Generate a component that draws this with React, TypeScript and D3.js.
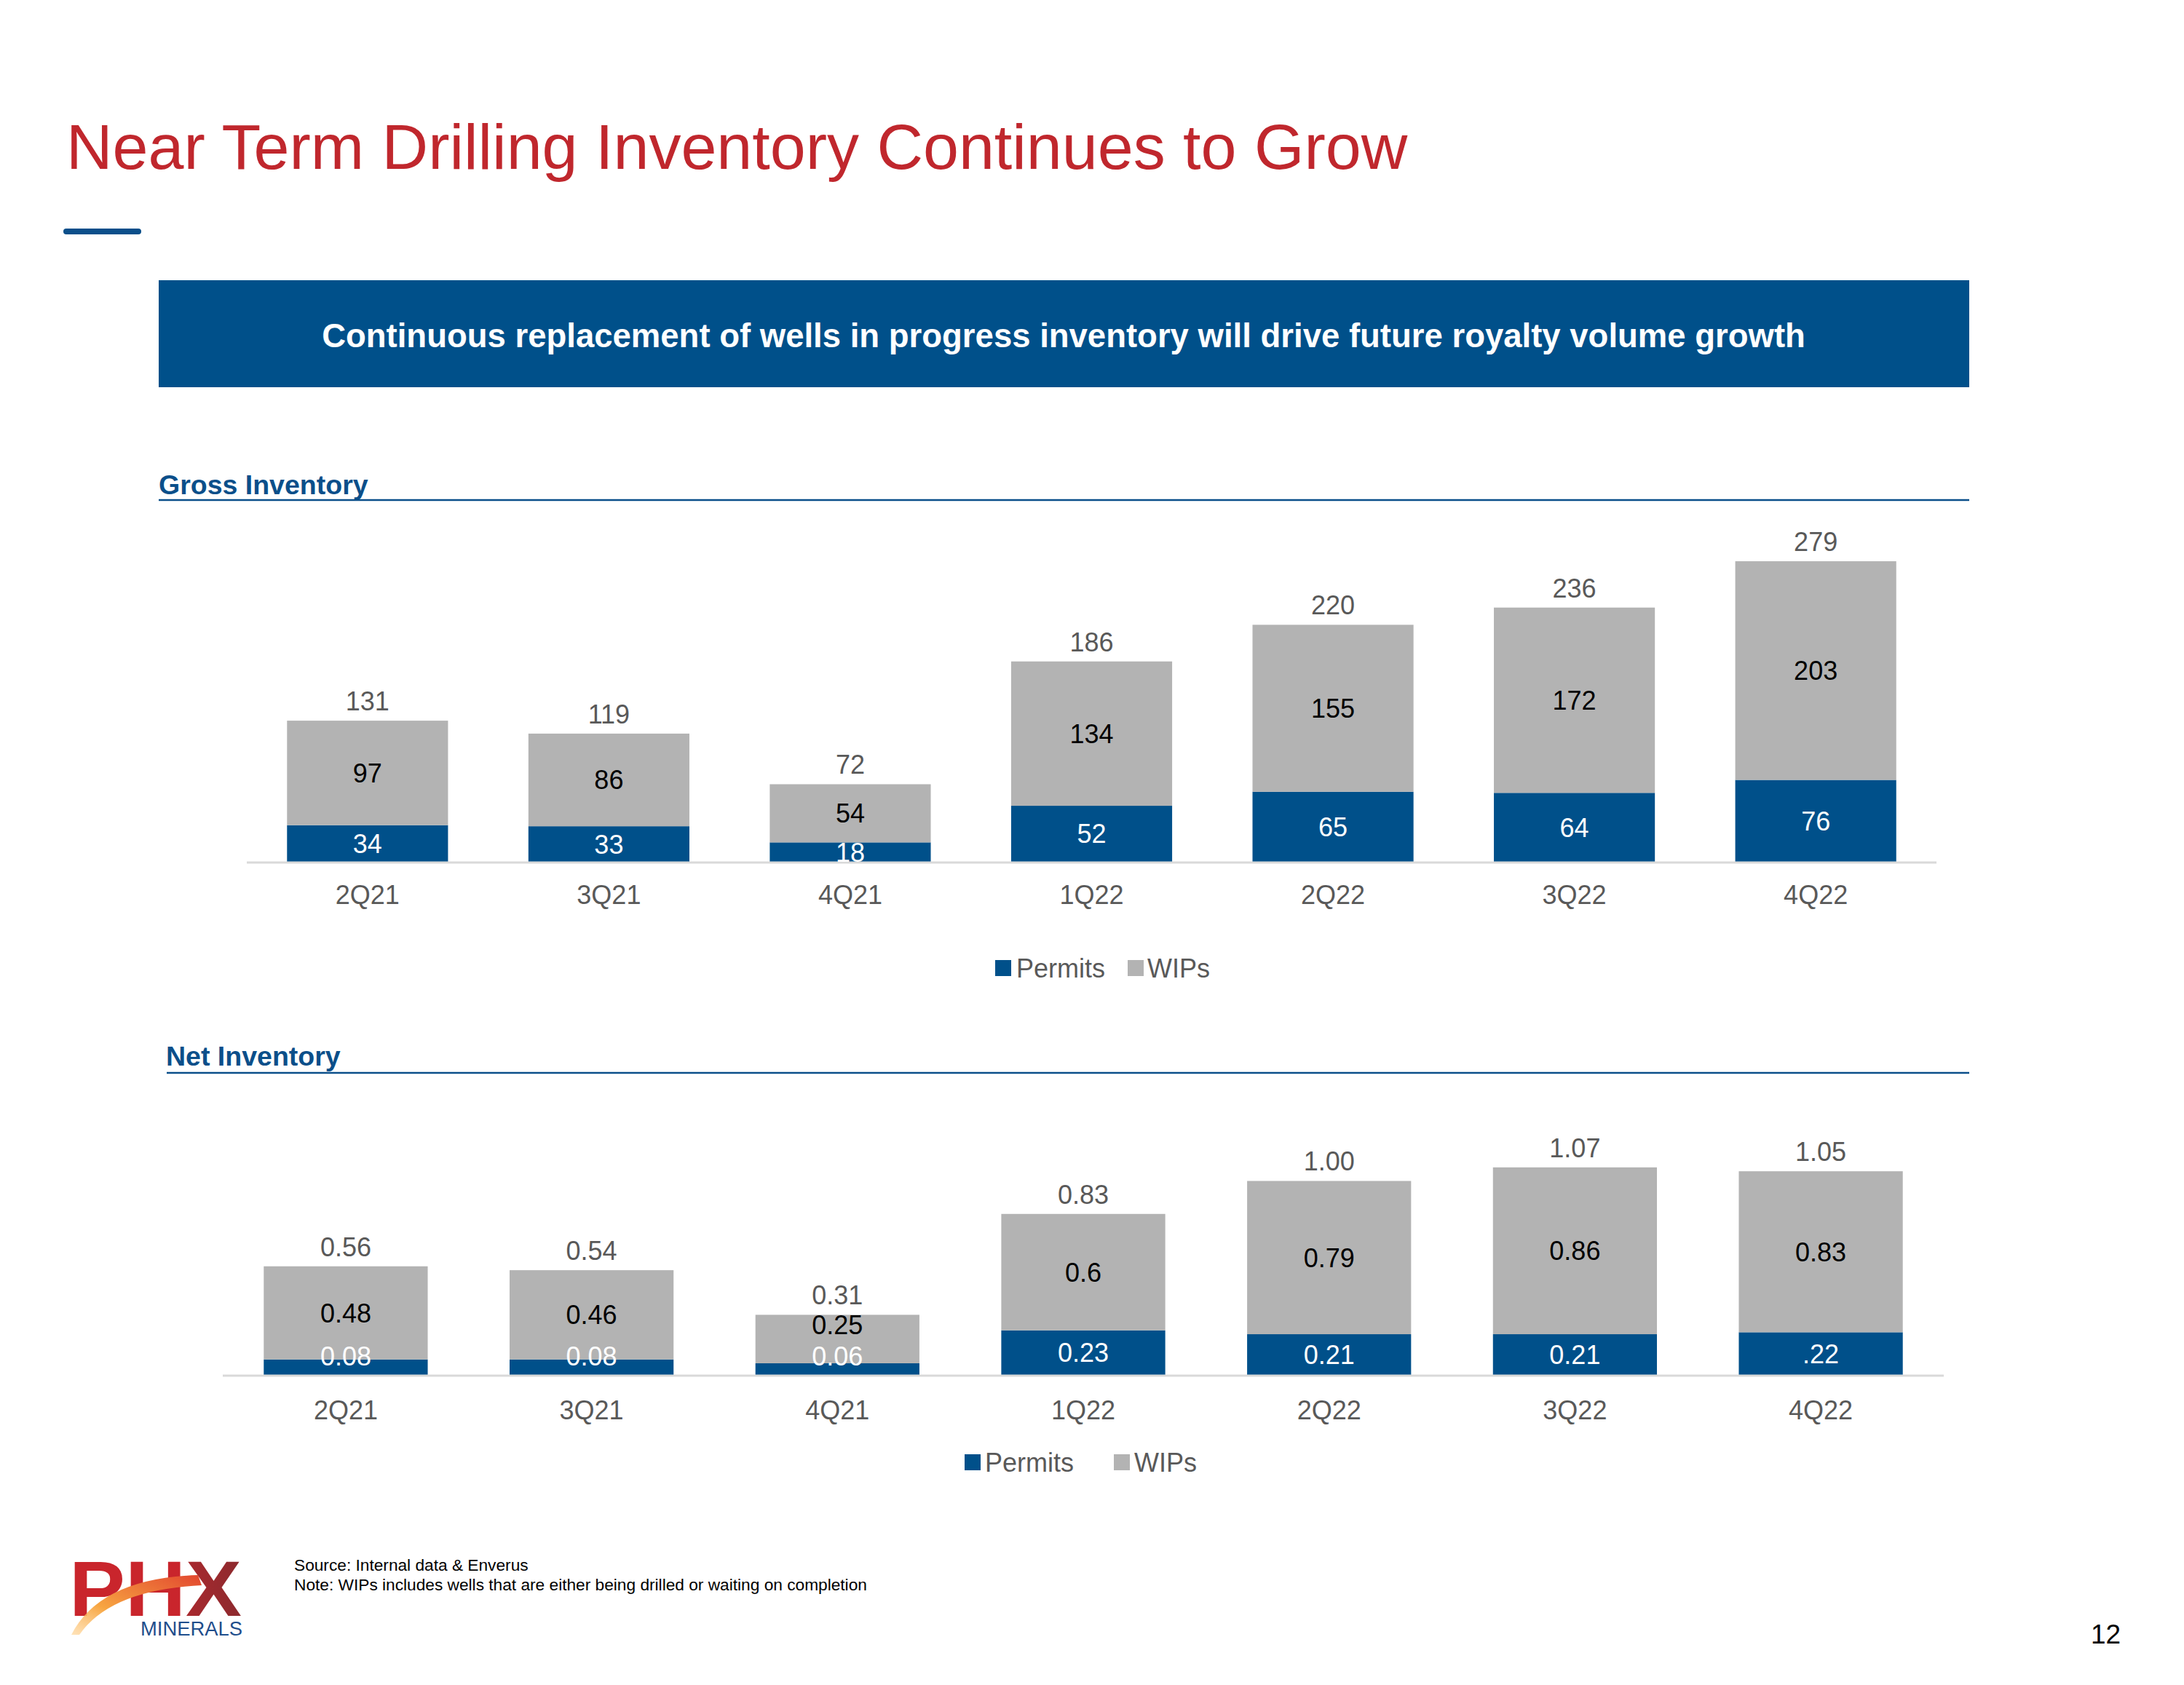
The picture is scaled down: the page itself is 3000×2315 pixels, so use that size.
import React from 'react';
import * as d3 from 'd3';

const quarters = ['2Q21', '3Q21', '4Q21', '1Q22', '2Q22', '3Q22', '4Q22'];
const seriesNames = ['Permits', 'WIPs'];
const grossPermits = [34, 33, 18, 52, 65, 64, 76];
const grossWIPs = [97, 86, 54, 134, 155, 172, 203];
const netPermits = [0.08, 0.08, 0.06, 0.23, 0.21, 0.21, 0.22];
const netWIPs = [0.48, 0.46, 0.25, 0.6, 0.79, 0.86, 0.83];
const netPermitLabels = ['0.08', '0.08', '0.06', '0.23', '0.21', '0.21', '.22'];
const netWIPLabels = ['0.48', '0.46', '0.25', '0.6', '0.79', '0.86', '0.83'];

const BLUE = '#00508A';
const GREY = '#B3B3B3';
const HEAD = '#0B4F8A';
const RED = '#C0272D';
const FONT = '"Liberation Sans", Arial, Helvetica, sans-serif';

type ChartProps = {
  permits: number[];
  wips: number[];
  permitLabels: string[];
  wipLabels: string[];
  fmtTotal: (v: number) => string;
  x0: number;
  x1: number;
  baseline: number;
  pxPerUnit: number;
  domainMax: number;
  catY: number;
  legendY: number;
  legendXs: number[];
  legendTextXs: number[];
  clampPermit: boolean;
  smallSeg: number;
};

function StackedChart(p: ChartProps) {
  const fs = 36;
  const rows = quarters.map((q, i) => ({ q, Permits: p.permits[i], WIPs: p.wips[i] }));
  const stacked = d3.stack<any>().keys(seriesNames)(rows);
  const x = d3.scaleBand<string>().domain(quarters).range([p.x0, p.x1]).paddingInner(0.333).paddingOuter(0.1667);
  const y = d3
    .scaleLinear()
    .domain([0, p.domainMax])
    .range([p.baseline, p.baseline - p.domainMax * p.pxPerUnit]);
  const colors = [BLUE, GREY];
  const bw = x.bandwidth();
  return (
    <g>
      {stacked.map((s, si) =>
        s.map((d, i) => (
          <rect
            key={`${si}-${i}`}
            x={x(quarters[i])}
            y={y(d[1])}
            width={bw}
            height={y(d[0]) - y(d[1])}
            fill={colors[si]}
          />
        ))
      )}
      <line x1={p.x0} x2={p.x1} y1={p.baseline + 1} y2={p.baseline + 1} stroke="#D9D9D9" strokeWidth={3} />
      {quarters.map((q, i) => {
        const cx = (x(q) as number) + bw / 2;
        const pTop = y(p.permits[i]);
        const tTop = y(p.permits[i] + p.wips[i]);
        let pc = (pTop + p.baseline) / 2;
        if (p.clampPermit) pc = Math.min(pc, p.baseline - 26);
        let wc = (tTop + pTop) / 2;
        if (pTop - tTop < p.smallSeg) wc = tTop + 14;
        const tc = tTop - 27;
        return (
          <g key={q} fontFamily={FONT} fontSize={fs} textAnchor="middle">
            <text x={cx} y={pc + fs * 0.36} fill="#FFFFFF">{p.permitLabels[i]}</text>
            <text x={cx} y={wc + fs * 0.36} fill="#000000">{p.wipLabels[i]}</text>
            <text x={cx} y={tc + fs * 0.36} fill="#595959">{p.fmtTotal(p.permits[i] + p.wips[i])}</text>
            <text x={cx} y={p.catY + fs * 0.36} fill="#595959">{q}</text>
          </g>
        );
      })}
      {seriesNames.map((n, i) => (
        <g key={n}>
          <rect x={p.legendXs[i]} y={p.legendY - 11} width={22} height={22} fill={colors[i]} />
          <text x={p.legendTextXs[i]} y={p.legendY + fs * 0.36} fontFamily={FONT} fontSize={fs} fill="#595959">
            {n}
          </text>
        </g>
      ))}
    </g>
  );
}

export default function App() {
  return (
    <svg
      width={3000}
      height={2315}
      viewBox="0 0 3000 2315"
      style={{ position: 'absolute', left: 0, top: 0, display: 'block', background: '#fff' }}
    >
      <defs>
        <linearGradient id="swoosh" x1="0" y1="1" x2="1" y2="0">
          <stop offset="0" stopColor="#FFD08A" stopOpacity={0.6} />
          <stop offset="0.35" stopColor="#F7A541" />
          <stop offset="1" stopColor="#E2462F" />
        </linearGradient>
        <linearGradient id="xgrad" x1="0" y1="0" x2="1" y2="0">
          <stop offset="0" stopColor="#C9252C" />
          <stop offset="0.6" stopColor="#B0282E" />
          <stop offset="1" stopColor="#8C2A2E" />
        </linearGradient>
      </defs>
      <rect x={0} y={0} width={3000} height={2315} fill="#fff" />
      <text x={91} y={232} fontFamily={FONT} fontSize={88} fill={RED}>
        Near Term Drilling Inventory Continues to Grow
      </text>
      <line x1={91} x2={190} y1={318} y2={318} stroke={HEAD} strokeWidth={8} strokeLinecap="round" />
      <rect x={218} y={385} width={2487} height={147} fill={BLUE} />
      <text x={1461} y={461 + 45 * 0.36} fontFamily={FONT} fontSize={45.5} fontWeight="bold" fill="#fff" textAnchor="middle">
        Continuous replacement of wells in progress inventory will drive future royalty volume growth
      </text>

      <text x={218} y={679} fontFamily={FONT} fontSize={37.5} fontWeight="bold" fill={HEAD}>Gross Inventory</text>
      <line x1={218} x2={2705} y1={687} y2={687} stroke={HEAD} strokeWidth={2.5} />
      <StackedChart
        permits={grossPermits}
        wips={grossWIPs}
        permitLabels={grossPermits.map(String)}
        wipLabels={grossWIPs.map(String)}
        fmtTotal={(v) => String(Math.round(v))}
        x0={339}
        x1={2660}
        baseline={1184}
        pxPerUnit={1.48}
        domainMax={300}
        catY={1229}
        legendY={1330}
        legendXs={[1367, 1549]}
        legendTextXs={[1396, 1576]}
        clampPermit={false}
        smallSeg={0}
      />

      <text x={228} y={1464} fontFamily={FONT} fontSize={37.5} fontWeight="bold" fill={HEAD}>Net Inventory</text>
      <line x1={229} x2={2705} y1={1474} y2={1474} stroke={HEAD} strokeWidth={2.5} />
      <StackedChart
        permits={netPermits}
        wips={netWIPs}
        permitLabels={netPermitLabels}
        wipLabels={netWIPLabels}
        fmtTotal={(v) => v.toFixed(2)}
        x0={306}
        x1={2670}
        baseline={1889}
        pxPerUnit={266.5}
        domainMax={1.2}
        catY={1937}
        legendY={2009}
        legendXs={[1325, 1530]}
        legendTextXs={[1353, 1558]}
        clampPermit={true}
        smallSeg={80}
      />

      <text x={404} y={2158} fontFamily={FONT} fontSize={22.7} fill="#000">Source: Internal data &amp; Enverus</text>
      <text x={404} y={2185} fontFamily={FONT} fontSize={22.7} fill="#000">
        Note: WIPs includes wells that are either being drilled or waiting on completion
      </text>

      <g>
        <text x={95} y={2220} fontFamily={FONT} fontSize={108} fontWeight="bold" textLength={237} lengthAdjust="spacingAndGlyphs">
          <tspan fill="#C9252C">PH</tspan>
          <tspan fill="url(#xgrad)">X</tspan>
        </text>
        <path
          d="M 98 2246 Q 138 2168 272 2164 L 277 2178 Q 152 2184 109 2246 Z"
          fill="url(#swoosh)"
        />
        <text x={193} y={2247} fontFamily={FONT} fontSize={27.5} fill="#1F4E8C" textLength={140} lengthAdjust="spacingAndGlyphs">
          MINERALS
        </text>
      </g>

      <text x={2872} y={2258} fontFamily={FONT} fontSize={37} fill="#000">12</text>
    </svg>
  );
}
